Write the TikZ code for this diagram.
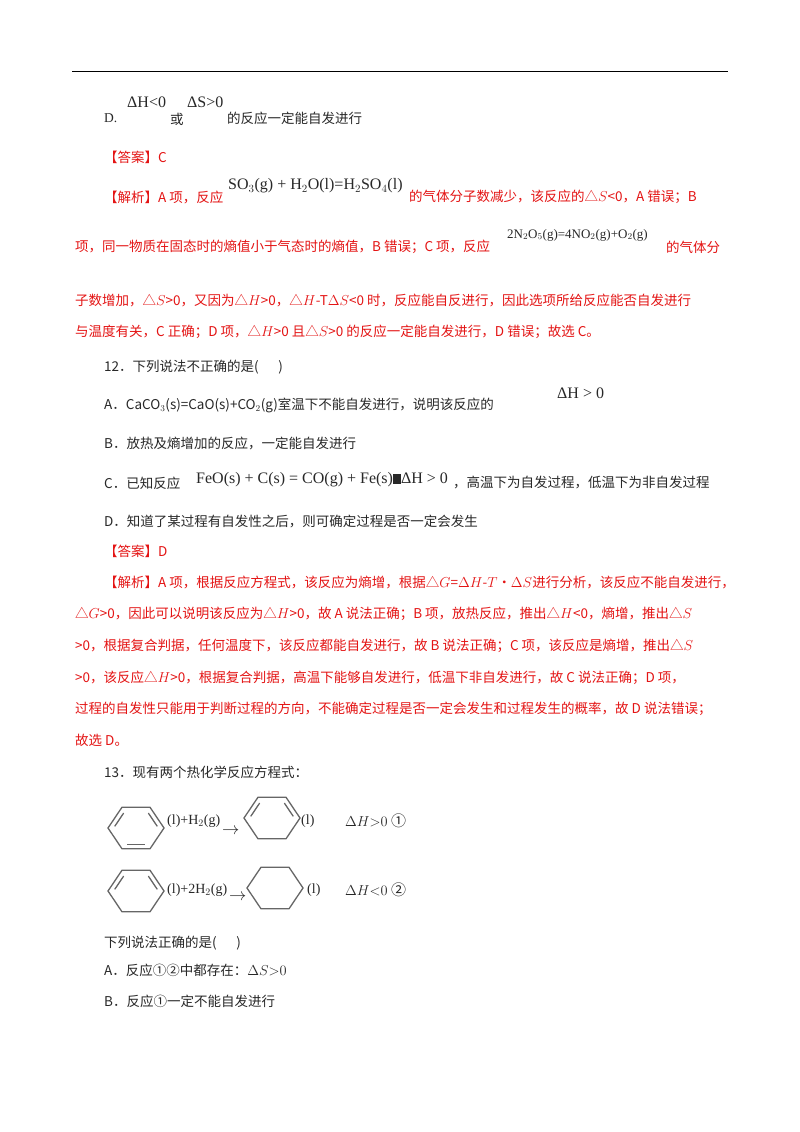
\documentclass[tikz,border=0pt]{standalone}
\usepackage{fontspec}
\setmainfont{Noto Sans CJK SC}
\newfontfamily\lat{Liberation Serif}
\usetikzlibrary{calc}
\definecolor{ansred}{RGB}{228,20,20}
\definecolor{txt}{RGB}{40,40,40}
\tikzset{ln/.style={anchor=west,inner sep=0pt,font=\fontsize{13.5}{16}\selectfont,text=txt},
 rd/.style={ln,text=ansred},
 fm/.style={ln,font=\fontsize{16}{18}\selectfont\lat},
 hx/.style={line width=1.3pt,draw=gray!80!black}}
\newcommand{\hexa}[4]{% name, cx, cy, bonds list
 \coordinate (#1o) at (#2,#3);
 \foreach \i/\ang in {1/180,2/240,3/300,4/0,5/60,6/120}{\coordinate (#1\i) at ($(#1o)+(\ang:28 and 24)$);}
 \draw[hx] (#11)--(#12)--(#13)--(#14)--(#15)--(#16)--cycle;
 \foreach \a/\b in {#4}{\draw[hx] ($($(#1\a)!0.2!(#1o)$)!0.1!($(#1\b)!0.2!(#1o)$)$) -- ($($(#1\b)!0.2!(#1o)$)!0.1!($(#1\a)!0.2!(#1o)$)$);}
}
\begin{document}
\begin{tikzpicture}[x=1pt,y=-1pt]
\useasboundingbox[fill=white] (0,0) rectangle (800,1132);
\draw[line width=1pt] (72,72) -- (728,72);
\node[ln] (d1) at (104,118) {\lat D.};
\node[fm] (d2) at (127,102) {ΔH<0};
\node[ln] (d3) at (170,119) {或};
\node[fm] (d4) at (187,102) {ΔS>0};
\node[ln] (d5) at (227,118) {的反应一定能自发进行};
\node[rd] (a1) at (104,157) {【答案】C};
\node[rd] (j1) at (104,197) {【解析】A 项，反应};
\node[fm] (j1f) at (228,186) {SO$_3$(g) + H$_2$O(l)=H$_2$SO$_4$(l)};
\node[rd] (j1b) at (409,197) {的气体分子数减少，该反应的△$S$<0，A 错误；B};
\node[rd] (j2) at (75,247) {项，同一物质在固态时的熵值小于气态时的熵值，B 错误；C 项，反应};
\node[ln] (j2f) at (507,235) {\fontsize{13}{14}\selectfont\lat 2N$_2$O$_5$(g)=4NO$_2$(g)+O$_2$(g)};
\node[rd] (j2b) at (666,247) {的气体分};
\node[rd] (j3) at (75,300) {子数增加，△$S$>0，又因为△$H$>0，△$H$-T$\Delta S$<0 时，反应能自反进行，因此选项所给反应能否自发进行};
\node[rd] (j4) at (75,332) {与温度有关，C 正确；D 项，△$H$>0 且△$S$>0 的反应一定能自发进行，D 错误；故选 C。};
\node[ln] (q12) at (104,367) {12．下列说法不正确的是(\quad\ \ )};
\node[ln] (qa) at (104,405) {A．CaCO$_3$(s)=CaO(s)+CO$_2$(g)室温下不能自发进行，说明该反应的};
\node[fm] (qa2) at (557,393) {ΔH > 0};
\node[ln] (qb) at (104,443) {B．放热及熵增加的反应，一定能自发进行};
\node[ln] (qc) at (104,483) {C．已知反应};
\node[fm] (qc2) at (196,480) {FeO(s) + C(s) = CO(g) + Fe(s)\rule{8pt}{10pt}ΔH > 0};
\node[ln] (qc3) at (453,483) {，高温下为自发过程，低温下为非自发过程};
\node[ln] (qd) at (104,521) {D．知道了某过程有自发性之后，则可确定过程是否一定会发生};
\node[rd] (a2) at (104,551) {【答案】D};
\node[rd] (k1) at (104,582) {【解析】A 项，根据反应方程式，该反应为熵增，根据△$G$=$\Delta H$-$T$•$\Delta S$进行分析，该反应不能自发进行，};
\node[rd] (k2) at (75,614) {△$G$>0，因此可以说明该反应为△$H$>0，故 A 说法正确；B 项，放热反应，推出△$H$<0，熵增，推出△$S$};
\node[rd] (k3) at (75,646) {>0，根据复合判据，任何温度下，该反应都能自发进行，故 B 说法正确；C 项，该反应是熵增，推出△$S$};
\node[rd] (k4) at (75,678) {>0，该反应△$H$>0，根据复合判据，高温下能够自发进行，低温下非自发进行，故 C 说法正确；D 项，};
\node[rd] (k5) at (75,709) {过程的自发性只能用于判断过程的方向，不能确定过程是否一定会发生和过程发生的概率，故 D 说法错误；};
\node[rd] (k6) at (75,740) {故选 D。};
\node[ln] (q13) at (104,772) {13．现有两个热化学反应方程式：};
\hexa{h}{136}{828}{1/2,3/4,5/6}
\hexa{p}{272}{818}{1/2,3/4}
\hexa{r}{136}{891}{1/2,3/4}
\hexa{s}{275}{888}{}
\node[ln] (e1) at (167,821) {\fontsize{14}{16}\selectfont\lat (l)+H$_2$(g)};
\node[ln] (ar1) at (222,831) {\fontsize{16}{18}\selectfont$\rightarrow$};
\node[ln] (e2) at (301,821) {\fontsize{14}{16}\selectfont\lat (l)};
\node[ln] (e3) at (345,821) {\fontsize{15}{16}\selectfont$\Delta H{>}0$ ①};
\node[ln] (f1) at (167,890) {\fontsize{14}{16}\selectfont\lat (l)+2H$_2$(g)};
\node[ln] (ar2) at (229,897) {\fontsize{16}{18}\selectfont$\rightarrow$};
\node[ln] (f2) at (307,890) {\fontsize{14}{16}\selectfont\lat (l)};
\node[ln] (f3) at (345,890) {\fontsize{15}{16}\selectfont$\Delta H{<}0$ ②};
\node[ln] (q3) at (104,943) {下列说法正确的是(\quad\ \ )};
\node[ln] (qq1) at (104,970) {A．反应①②中都存在：$\Delta S{>}0$};
\node[ln] (qq2) at (104,1001) {B．反应①一定不能自发进行};
\end{tikzpicture}
\end{document}
